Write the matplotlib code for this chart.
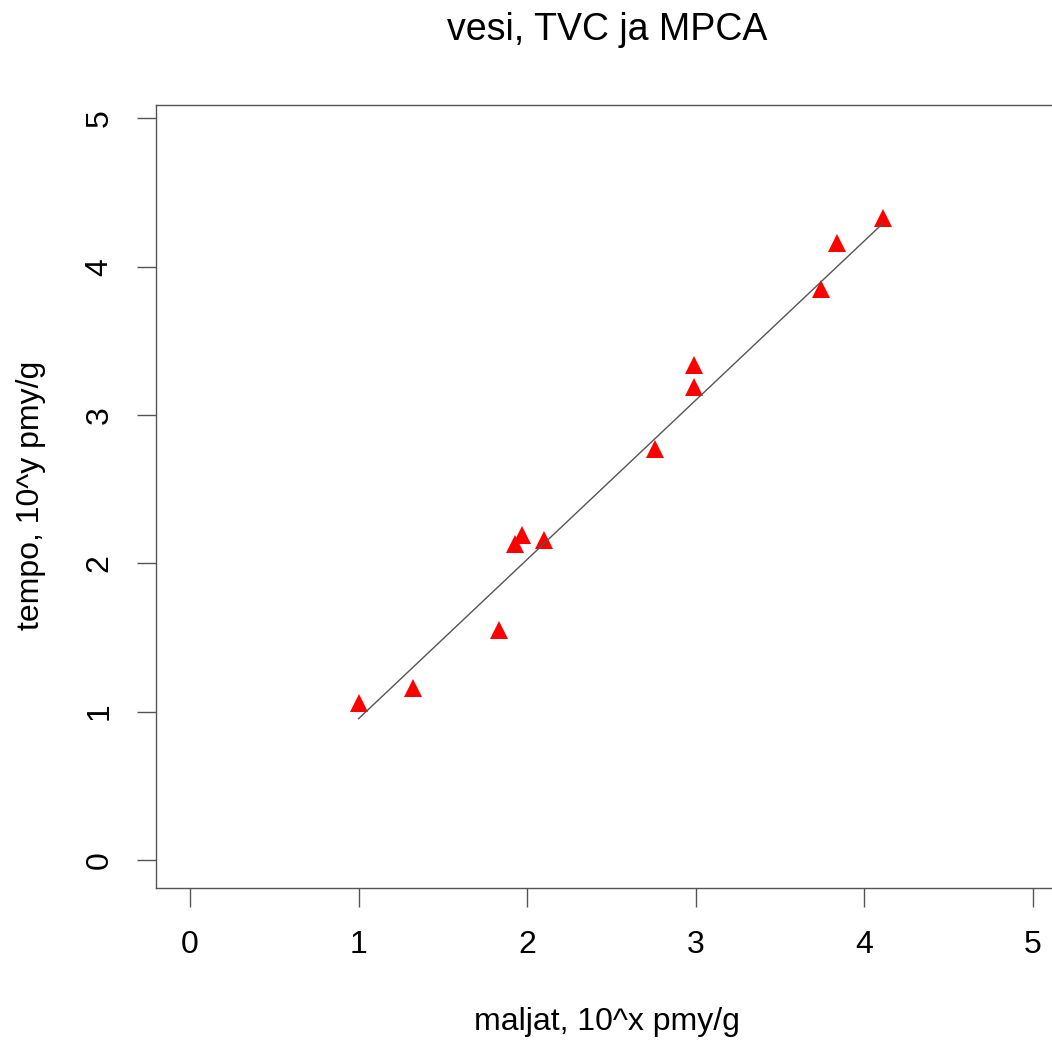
import matplotlib.pyplot as plt

plt.rcParams['font.family'] = ['Liberation Sans', 'DejaVu Sans']

# maljat (x) ja tempo (y), log10 pmy/g
maljat = [1.00, 1.32, 1.83, 1.93, 1.97, 2.10, 2.76, 2.99, 2.99, 3.74, 3.84, 4.11]
tempo = [1.06, 1.16, 1.55, 2.13, 2.19, 2.16, 2.77, 3.19, 3.34, 3.85, 4.16, 4.33]
ticks = [0, 1, 2, 3, 4, 5]

# regression line
slope = 1.074
intercept = -0.122

W, H = 1052, 1043
fig = plt.figure(figsize=(W / 100, H / 100), dpi=100)

# axes in pixel units, box runs off the right edge like the original
left, right, top, bottom = 156.3, 1066.7, 105, 888
ax = fig.add_axes([left / W, 1 - bottom / H, (right - left) / W, (bottom - top) / H])
ax.set_xlim(-0.2, 5.2)
ax.set_ylim(-0.19, 5.09)

ax.plot(maljat, tempo, linestyle='none', marker='^', color='red', ms=13,
        markeredgewidth=0, clip_on=False)

xs = [min(maljat), max(maljat)]
ax.plot(xs, [slope * v + intercept for v in xs], color='#555555', lw=1)

for s in ax.spines.values():
    s.set_color('#555555')
    s.set_linewidth(1)

ax.set_xticks(ticks)
ax.set_yticks(ticks)
ax.tick_params(direction='out', length=14, width=1, color='#555555',
               labelsize=23, pad=16)
for lab in ax.get_yticklabels():
    lab.set_rotation(90)
    lab.set_va('center')

fig.text(607 / W, 1 - 30 / H, 'vesi, TVC ja MPCA', ha='center', va='center', fontsize=27)
fig.text(607 / W, 1 - 1022 / H, 'maljat, 10^x pmy/g', ha='center', va='center', fontsize=23)
fig.text(31 / W, 1 - 495 / H, 'tempo, 10^y pmy/g', ha='center', va='center',
         fontsize=23, rotation=90)

fig.savefig('out.png', dpi=100)
